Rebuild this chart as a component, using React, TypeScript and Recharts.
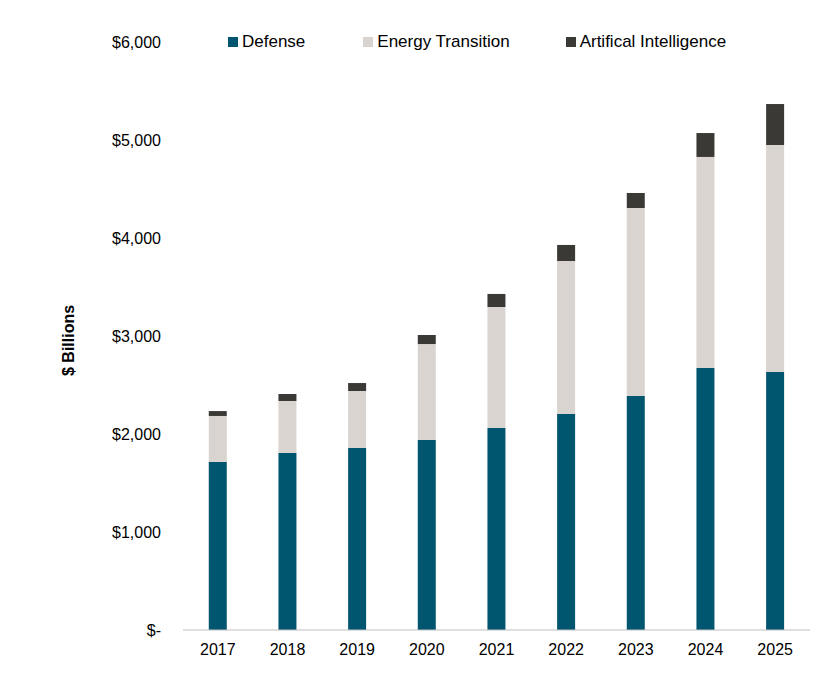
import React from "react";
import { BarChart, Bar, XAxis, YAxis, CartesianGrid } from "recharts";

const years = ["2017","2018","2019","2020","2021","2022","2023","2024","2025"];
const defense = [1715,1806,1857,1939,2061,2204,2388,2673,2633];
const energy = [469,531,582,979,1235,1561,1918,2154,2316];
const ai = [50,71,81,92,133,164,153,244,418];
const yTicks = [0,1000,2000,3000,4000,5000,6000];

const series = [
  { key: "defense", name: "Defense", color: "#00556F" },
  { key: "energy", name: "Energy Transition", color: "#D9D4CF" },
  { key: "ai", name: "Artifical Intelligence", color: "#3B3936" },
];

const data = years.map((y, i) => ({ year: y, defense: defense[i], energy: energy[i], ai: ai[i] }));

const fmt = (v: number) => (v === 0 ? "$-" : "$" + v.toLocaleString("en-US"));

export default function App() {
  const font = "'Liberation Sans', Arial, sans-serif";
  return (
    <div style={{ position: "relative", width: 815, height: 675, fontFamily: font }}>
      <BarChart width={815} height={675} data={data} margin={{ top: 34, right: 13, bottom: 23, left: 75 }} barCategoryGap="37%">
        <CartesianGrid vertical={false} horizontal={false} />
        <XAxis dataKey="year" height={30} tickLine={false} axisLine={{ stroke: "#BFBFBF" }}
          tick={{ fill: "#000", fontSize: 16, fontFamily: font }} tickMargin={8} />
        <YAxis width={100} ticks={yTicks} domain={[0, 6000]} tickFormatter={fmt} tickLine={false} axisLine={false}
          tickSize={0} tickMargin={22} tick={{ fill: "#000", fontSize: 16, fontFamily: font }}
          label={{ value: "$ Billions", angle: -90, position: "insideLeft", dx: -20, dy: 40, style: { fontWeight: "bold", fontSize: 16, fill: "#000", fontFamily: font } } as any} />
        {series.map((s) => (
          <Bar key={s.key} dataKey={s.key} name={s.name} stackId="a" fill={s.color} isAnimationActive={false} />
        ))}
      </BarChart>
      <div style={{ position: "absolute", top: 24, left: 220, display: "flex", fontSize: 17, color: "#000" }}>
        {series.map((s, i) => (
          <div key={s.key} style={{ display: "flex", alignItems: "center", marginRight: i === 0 ? 58 : 56 }}>
            <span style={{ width: 10, height: 10, background: s.color, display: "inline-block", marginRight: 4 }} />
            <span>{s.name}</span>
          </div>
        ))}
      </div>
    </div>
  );
}
